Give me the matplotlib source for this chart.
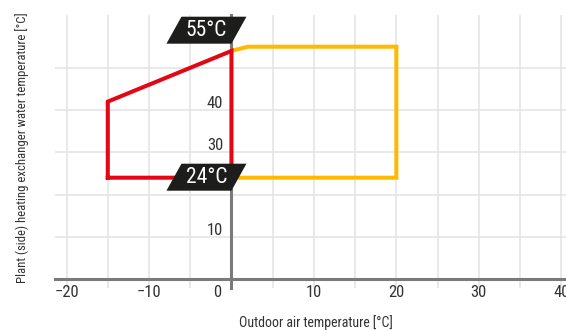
import matplotlib
matplotlib.use('Agg')
import matplotlib.pyplot as plt
import matplotlib.font_manager as fm
from matplotlib.patches import Polygon
from matplotlib.transforms import ScaledTranslation

# operating envelopes (outdoor air temp, water temp)
red_x = [-15, -15, 0, 0, -15]
red_y = [24, 42, 54, 24, 24]
yellow_x = [0, 2, 20, 20, 0]
yellow_y = [54, 55, 55, 24, 24]

x_ticks = [-20, -10, 0, 10, 20, 30, 40]
x_grid = [-15, -5, 5, 15, 25, 35]
y_ticks = [10, 20, 30, 40, 50]
y_labels = ['10', '', '30', '40', '']

badges = [(0, 55, '55°C'), (0, 24, '24°C')]

names = {f.name for f in fm.fontManager.ttflist}
font = 'DejaVu Sans'
for cand in ['Roboto Condensed', 'Liberation Sans Narrow', 'Roboto']:
    if cand in names:
        font = cand
        break
plt.rcParams['font.family'] = [font, 'DejaVu Sans']

RED = '#e30613'
YELLOW = '#ffb900'
DARK = '#1d1d1b'
AXIS = '#7a7a7a'
TXT = '#333333'


def main():
    fig = plt.figure(figsize=(5.66, 3.31), dpi=100)
    ax = fig.add_axes([0.0972, 0.1299, 0.9235, 0.8248])
    ax.set_xlim(-21.4, 42)
    ax.set_ylim(-2.1, 62.5)

    for s in ['top', 'right']:
        ax.spines[s].set_visible(False)
    ax.spines['left'].set_position(('data', 0))
    ax.spines['bottom'].set_position(('data', 0))
    for s in ['left', 'bottom']:
        ax.spines[s].set_color(AXIS)
        ax.spines[s].set_linewidth(2.2)
        ax.spines[s].set_zorder(3)

    ax.set_xticks(x_ticks)
    ax.set_xticks(x_grid, minor=True)
    ax.set_yticks(y_ticks)
    ax.set_yticklabels(y_labels)
    ax.grid(True, which='both', color='#e3e3e3', linewidth=1.1, zorder=0)
    ax.set_axisbelow(True)
    ax.tick_params(which='both', length=0)
    ax.tick_params(axis='x', pad=4, labelsize=12, labelcolor=TXT)
    ax.tick_params(axis='y', pad=6, labelsize=12, labelcolor=TXT)

    ax.plot(yellow_x, yellow_y, color=YELLOW, lw=2.9, solid_joinstyle='miter', zorder=4)
    ax.plot(red_x, red_y, color=RED, lw=2.9, solid_joinstyle='miter', zorder=5)

    # black slanted badges anchored at the axis
    for bx, by, txt in badges:
        trans = fig.dpi_scale_trans + ScaledTranslation(bx, by, ax.transData)
        dy = 0.03 if by > 40 else -0.13
        verts = [(-0.65, dy), (0.0, dy), (0.15, dy + 0.27), (-0.50, dy + 0.27)]
        ax.add_patch(Polygon(verts, closed=True, facecolor=DARK, edgecolor='none',
                             transform=trans, zorder=6, clip_on=False))
        ax.text(-0.25, dy + 0.135, txt, transform=trans, color='white', fontsize=15.5,
                ha='center', va='center', zorder=7)

    # shift tick labels like the original
    for lbl, v in zip(ax.get_xticklabels(), x_ticks):
        if v == 0:
            lbl.set_transform(lbl.get_transform() + ScaledTranslation(-0.14, 0, fig.dpi_scale_trans))
    for lbl in ax.get_yticklabels():
        lbl.set_transform(lbl.get_transform() + ScaledTranslation(0, 0.08, fig.dpi_scale_trans))

    fig.text(316 / 566, 1 - 323 / 331, 'Outdoor air temperature [°C]', ha='center', va='center',
             fontsize=10, color=TXT)
    fig.text(22 / 566, 1 - 148 / 331, 'Plant (side) heating exchanger water temperature [°C]',
             ha='center', va='center', rotation=90, fontsize=9.2, color=TXT)

    fig.savefig('out.png', dpi=100)


if __name__ == '__main__':
    main()
